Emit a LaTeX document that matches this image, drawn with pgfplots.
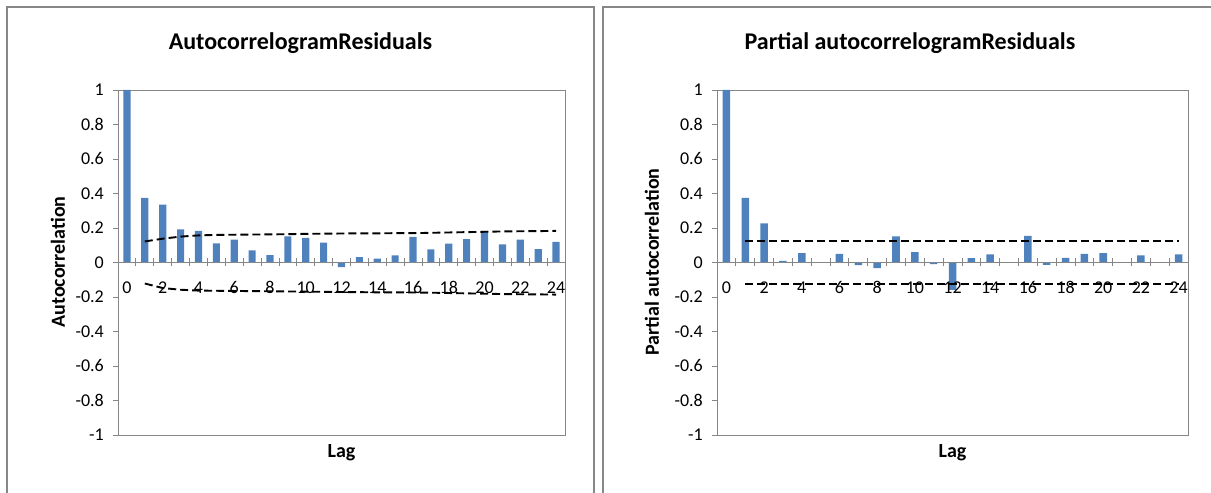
\documentclass[border=0pt]{standalone}
\usepackage{pgfplots}
\pgfplotsset{compat=1.18}
\usepackage{pgfplotstable}
\usepackage{fontspec}
\setmainfont{Carlito}
\definecolor{barblue}{HTML}{4F81BD}
\definecolor{framegray}{HTML}{878787}
\definecolor{axgray}{HTML}{868686}

\pgfplotstableread{
lag acf
0 1
1 0.375
2 0.336
3 0.192
4 0.183
5 0.111
6 0.132
7 0.070
8 0.043
9 0.151
10 0.142
11 0.115
12 -0.027
13 0.031
14 0.023
15 0.041
16 0.148
17 0.076
18 0.109
19 0.136
20 0.183
21 0.105
22 0.132
23 0.078
24 0.120
}\acftable

\pgfplotstableread{
lag up lo
1 0.122 -0.122
2 0.138 -0.148
3 0.150 -0.158
4 0.157 -0.163
5 0.160 -0.164
6 0.161 -0.165
7 0.162 -0.166
8 0.163 -0.167
9 0.164 -0.168
10 0.166 -0.169
11 0.167 -0.170
12 0.168 -0.171
13 0.169 -0.172
14 0.169 -0.173
15 0.170 -0.173
16 0.170 -0.174
17 0.172 -0.175
18 0.174 -0.177
19 0.176 -0.179
20 0.178 -0.181
21 0.180 -0.183
22 0.181 -0.184
23 0.182 -0.185
24 0.183 -0.186
}\acfband

\pgfplotstableread{
lag pacf
0 1
1 0.375
2 0.227
3 0.010
4 0.054
5 0.002
6 0.050
7 -0.016
8 -0.033
9 0.151
10 0.060
11 -0.010
12 -0.159
13 0.025
14 0.047
15 0.000
16 0.155
17 -0.014
18 0.027
19 0.050
20 0.054
21 0.000
22 0.041
23 0.000
24 0.047
}\pacftable

\pgfplotstableread{
lag up lo
1 0.124 -0.124
24 0.124 -0.124
}\pacfband

\pgfplotsset{
  mainax/.style={
    scale only axis, height=345bp,
    xmin=-0.5, xmax=24.5, ymin=-1, ymax=1,
    xtick=\empty,
    ytick={-1,-0.8,-0.6,-0.4,-0.2,0,0.2,0.4,0.6,0.8,1},
    yticklabels={-1,-0.8,-0.6,-0.4,-0.2,0,0.2,0.4,0.6,0.8,1},
    ytick pos=left, tick align=outside, major tick length=5bp,
    tick style={axgray, line width=0.8bp},
    yticklabel style={font=\fontsize{18bp}{21bp}\selectfont, inner sep=0pt, xshift=-9bp},
    axis line style={axgray, line width=0.9bp},
    clip=false,
  },
  xax/.style={
    scale only axis, height=345bp,
    xmin=-0.5, xmax=24.5, ymin=-1, ymax=1,
    axis x line=middle, axis y line=none,
    axis line style={axgray, line width=0.9bp, -},
    xtick={-0.5,0.5,...,24.5}, xticklabels={},
    tick align=center, major tick length=8bp,
    tick style={axgray, line width=0.8bp},
    extra x ticks={0,2,4,6,8,10,12,14,16,18,20,22,24},
    extra x tick labels={0,2,4,6,8,10,12,14,16,18,20,22,24},
    extra x tick style={major tick length=0pt,
      xticklabel style={font=\fontsize{18bp}{21bp}\selectfont, inner sep=0pt, anchor=north, yshift=-19bp}},
  },
  bars/.style={ybar, bar width=0.4, fill=barblue, draw=none},
  band/.style={black, line width=1.9bp, dash pattern=on 8bp off 4bp},
}

\begin{document}
\begin{tikzpicture}[x=1bp,y=1bp]
\useasboundingbox (0,0) rectangle (1211,493);
% panel frames
\draw[framegray, line width=2bp] (7,-5) -- (7,486) -- (594,486) -- (594,-5);
\draw[framegray, line width=2bp] (603,-5) -- (603,486) -- (1220,486);

% left chart
\begin{axis}[mainax, at={(118bp,58bp)}, anchor=south west, width=447bp]
\addplot[bars] table[x=lag,y=acf] {\acftable};
\addplot[band] table[x=lag,y=up] {\acfband};
\addplot[band] table[x=lag,y=lo] {\acfband};
\end{axis}
\begin{axis}[xax, at={(118bp,58bp)}, anchor=south west, width=447bp]
\end{axis}

% right chart
\begin{axis}[mainax, at={(717bp,58bp)}, anchor=south west, width=471bp]
\addplot[bars] table[x=lag,y=pacf] {\pacftable};
\addplot[band] table[x=lag,y=up] {\pacfband};
\addplot[band] table[x=lag,y=lo] {\pacfband};
\end{axis}
\begin{axis}[xax, at={(717bp,58bp)}, anchor=south west, width=471bp]
\end{axis}

% titles and labels
\node[anchor=base, font=\fontsize{24bp}{28bp}\selectfont\bfseries] at (300.5,443) {AutocorrelogramResiduals};
\node[anchor=base, font=\fontsize{24bp}{28bp}\selectfont\bfseries] at (910,443) {Partial autocorrelogramResiduals};
\node[anchor=base, font=\fontsize{20bp}{24bp}\selectfont\bfseries] at (341.5,35) {Lag};
\node[anchor=base, font=\fontsize{20bp}{24bp}\selectfont\bfseries] at (952.5,35) {Lag};
\node[rotate=90, font=\fontsize{20bp}{24bp}\selectfont\bfseries] at (58,231) {Autocorrelation};
\node[rotate=90, font=\fontsize{20bp}{24bp}\selectfont\bfseries] at (652,231) {Partial autocorrelation};
\end{tikzpicture}
\end{document}
